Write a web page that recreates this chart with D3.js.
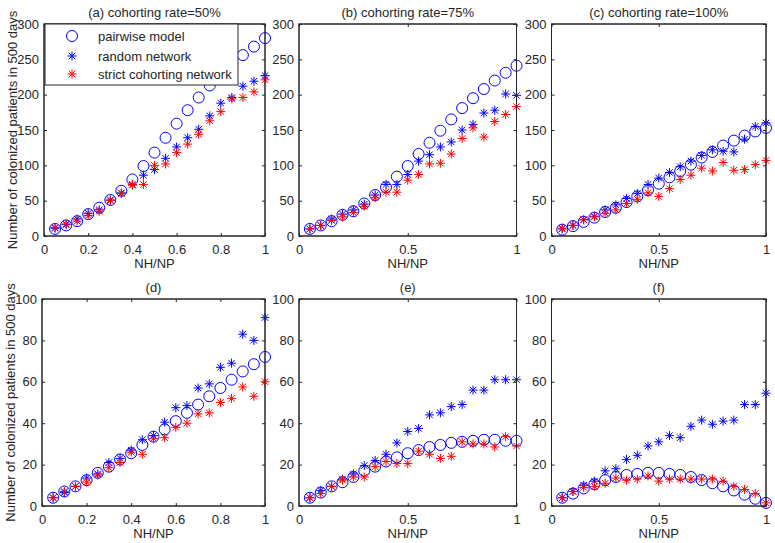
<!DOCTYPE html>
<html>
<head>
<meta charset="utf-8">
<script src="https://cdn.jsdelivr.net/npm/d3@7"></script>
<style>
  body { margin: 0; background: #fff; }
  svg text { font-family: "Liberation Sans", Arial, sans-serif; fill: #262626; }
</style>
</head>
<body>
<div id="chart"></div>
<script>
// NH/NP values shared by all panels
const nhnp = [0.05, 0.1, 0.15, 0.2, 0.25, 0.3, 0.35, 0.4, 0.45, 0.5,
              0.55, 0.6, 0.65, 0.7, 0.75, 0.8, 0.85, 0.9, 0.95, 1.0];

const titles = ["(a) cohorting rate=50%", "(b) cohorting rate=75%", "(c) cohorting rate=100%",
                "(d)", "(e)", "(f)"];
const seriesNames = ["pairwise model", "random network", "strict cohorting network"];

// panel (a)
const pairwiseA = [10, 15, 21, 31, 40, 51, 64, 80, 99, 118, 139, 159, 178, 196, 213, 228, 242, 256, 268, 280];
const randomA   = [11, 16, 24, 32, 37, 51, 61, 72, 86, 94, 110, 126, 139, 151, 170, 188, 196, 212, 219, 227];
const strictA   = [12, 17, 21, 29, 35, 50, 60, 73, 73, 100, 102, 118, 130, 144, 163, 176, 194, 196, 204, 221];
// panel (b)
const pairwiseB = [10, 15, 21, 30, 35, 46, 58, 69, 84, 99, 116, 132, 149, 165, 181, 195, 208, 220, 231, 241];
const randomB   = [10, 15, 24, 31, 37, 45, 58, 73, 73, 87, 106, 115, 126, 133, 150, 158, 174, 178, 201, 199];
const strictB   = [10, 15, 22, 27, 33, 42, 54, 62, 62, 79, 87, 102, 103, 116, 138, 153, 140, 162, 172, 183];
// panel (c)
const pairwiseC = [9, 14, 20, 26, 34, 40, 48, 56, 65, 74, 83, 92, 101, 111, 119, 128, 135, 142, 148, 153];
const randomC   = [10, 15, 23, 28, 37, 44, 53, 60, 73, 82, 90, 98, 106, 114, 122, 120, 119, 137, 155, 160];
const strictC   = [11, 15, 23, 27, 32, 37, 46, 52, 61, 56, 67, 80, 86, 96, 92, 104, 93, 94, 101, 107];
// panel (d)
const pairwiseD = [4, 7, 9.5, 12.5, 16, 19, 22.5, 25.5, 29.5, 33.5, 37, 41, 45, 49, 53, 57, 61, 65, 68.5, 72];
const randomD   = [4, 6.5, 9.5, 13.5, 15.5, 21, 23, 27, 32, 34, 40.5, 47.5, 48.5, 57, 59, 67, 69, 83, 80, 91];
const strictD   = [4, 7, 9.5, 11.5, 15, 18.5, 21, 26, 25, 32.5, 33, 38, 40, 44.5, 45, 50, 52, 57.5, 53, 60];
// panel (e)
const pairwiseE = [4, 6.5, 9.5, 11.5, 14, 17, 19, 21.5, 23.5, 25.5, 27, 28.5, 29.5, 30.5, 31, 31.5, 32, 32, 31.5, 31.5];
const randomE   = [4, 7.5, 9.5, 13, 15.5, 19.5, 22, 25, 30.5, 36, 37.5, 44, 45, 48, 49, 56, 56, 61, 61, 61];
const strictE   = [4, 6, 9.5, 12.5, 14, 14, 19, 21.5, 20.5, 20.5, 26.5, 25, 23, 24, 31, 30, 30, 28.5, 33.5, 29];
// panel (f)
const pairwiseF = [4, 6, 8.5, 10.5, 12.5, 14, 15, 15.5, 16, 16, 15.5, 15, 14, 12.5, 11, 9.5, 7.5, 5.5, 3.5, 1.5];
const randomF   = [4, 7, 10, 12, 17, 18, 22.5, 24.5, 29, 31, 34, 33, 38.5, 41.5, 39.5, 41, 41.5, 49, 49, 54.5];
const strictF   = [4, 7, 9, 9.5, 11, 13.5, 12.5, 13, 14.5, 12, 13, 13, 13, 13, 13, 12, 9.5, 8, 6, 1.5];

const yTicksTop = [0, 50, 100, 150, 200, 250, 300];
const yTicksBottom = [0, 20, 40, 60, 80, 100];
const xTicksFine = [0, 0.2, 0.4, 0.6, 0.8, 1];
const xTicksCoarse = [0, 0.5, 1];

const panels = [
  { title: titles[0], series: [pairwiseA, randomA, strictA], yMax: 300, yTicks: yTicksTop, xTicks: xTicksFine, box: [44, 24, 265, 236], yLabel: true, legend: true },
  { title: titles[1], series: [pairwiseB, randomB, strictB], yMax: 300, yTicks: yTicksTop, xTicks: xTicksCoarse, box: [299, 24, 516.5, 236] },
  { title: titles[2], series: [pairwiseC, randomC, strictC], yMax: 300, yTicks: yTicksTop, xTicks: xTicksCoarse, box: [551.5, 24, 766, 236] },
  { title: titles[3], series: [pairwiseD, randomD, strictD], yMax: 100, yTicks: yTicksBottom, xTicks: xTicksFine, box: [42, 299, 265, 506], yLabel: true },
  { title: titles[4], series: [pairwiseE, randomE, strictE], yMax: 100, yTicks: yTicksBottom, xTicks: xTicksCoarse, box: [299, 299, 516.5, 506] },
  { title: titles[5], series: [pairwiseF, randomF, strictF], yMax: 100, yTicks: yTicksBottom, xTicks: xTicksCoarse, box: [551.5, 299, 766, 506] }
];

const width = 775, height = 543;
const blue = "#0000ff", red = "#ff0000";
const axisColor = "#262626";

const svg = d3.select("#chart").append("svg")
  .attr("width", width).attr("height", height);

function drawCircle(g, x, y) {
  g.append("circle").attr("cx", x).attr("cy", y).attr("r", 5.5)
    .attr("fill", "none").attr("stroke", blue).attr("stroke-width", 1);
}

function drawStar(g, x, y, color) {
  const s = 4.5, d = s * 0.72;
  const path = `M${x - s},${y}H${x + s}M${x},${y - s}V${y + s}` +
    `M${x - d},${y - d}L${x + d},${y + d}M${x - d},${y + d}L${x + d},${y - d}`;
  g.append("path").attr("d", path).attr("fill", "none")
    .attr("stroke", color).attr("stroke-width", 1);
}

panels.forEach((p) => {
  const [x0, y0, x1, y1] = p.box;
  const x = d3.scaleLinear().domain([0, 1]).range([x0, x1]);
  const y = d3.scaleLinear().domain([0, p.yMax]).range([y1, y0]);
  const g = svg.append("g");

  // white plot area + box
  g.append("rect").attr("x", x0).attr("y", y0).attr("width", x1 - x0).attr("height", y1 - y0)
    .attr("fill", "#fff").attr("stroke", axisColor).attr("stroke-width", 1);

  // axes with inward ticks (MATLAB style)
  const tl = 3;
  g.append("g").attr("transform", `translate(0,${y1})`)
    .call(d3.axisBottom(x).tickValues(p.xTicks).tickSizeInner(-tl).tickSizeOuter(0).tickPadding(9)
      .tickFormat((d) => d3.format("~g")(d)));
  g.append("g").attr("transform", `translate(0,${y0})`)
    .call(d3.axisTop(x).tickValues(p.xTicks).tickSizeInner(-tl).tickSizeOuter(0).tickFormat(""));
  g.append("g").attr("transform", `translate(${x0},0)`)
    .call(d3.axisLeft(y).tickValues(p.yTicks).tickSizeInner(-tl).tickSizeOuter(0).tickPadding(5));
  g.append("g").attr("transform", `translate(${x1},0)`)
    .call(d3.axisRight(y).tickValues(p.yTicks).tickSizeInner(-tl).tickSizeOuter(0).tickFormat(""));

  g.selectAll(".domain").remove();
  g.selectAll(".tick line").attr("stroke", axisColor);
  g.selectAll(".tick text").attr("font-size", 13).style("fill", axisColor)
    .attr("font-family", "Liberation Sans, Arial, sans-serif");

  // title and x label
  g.append("text").attr("x", (x0 + x1) / 2).attr("y", y0 - 7)
    .attr("text-anchor", "middle").attr("font-size", 13).text(p.title);
  g.append("text").attr("x", (x0 + x1) / 2).attr("y", y1 + 32)
    .attr("text-anchor", "middle").attr("font-size", 13).text("NH/NP");

  if (p.yLabel) {
    g.append("text")
      .attr("transform", `translate(${x0 - 27},${(y0 + y1) / 2}) rotate(-90)`)
      .attr("text-anchor", "middle").attr("font-size", 13)
      .text("Number of colonized patients in 500 days");
  }

  // markers: pairwise circles, random blue stars, strict red stars
  const marks = g.append("g");
  nhnp.forEach((v, i) => drawCircle(marks, x(v), y(p.series[0][i])));
  nhnp.forEach((v, i) => drawStar(marks, x(v), y(p.series[1][i]), blue));
  nhnp.forEach((v, i) => drawStar(marks, x(v), y(p.series[2][i]), red));

  g.append("rect").attr("x", x0).attr("y", y0).attr("width", x1 - x0).attr("height", y1 - y0)
    .attr("fill", "none").attr("stroke", axisColor).attr("stroke-width", 1);

  if (p.legend) {
    const lg = g.append("g");
    lg.append("rect").attr("x", x0 + 1).attr("y", y0).attr("width", 193).attr("height", 61)
      .attr("fill", "#fff").attr("stroke", axisColor).attr("stroke-width", 1);
    const rows = [y0 + 12, y0 + 32, y0 + 50];
    drawCircle(lg, x0 + 28, rows[0]);
    drawStar(lg, x0 + 28, rows[1], blue);
    drawStar(lg, x0 + 28, rows[2], red);
    seriesNames.forEach((name, i) => {
      lg.append("text").attr("x", x0 + 54).attr("y", rows[i] + 4.5)
        .attr("font-size", 13).text(name);
    });
  }
});
</script>
</body>
</html>
